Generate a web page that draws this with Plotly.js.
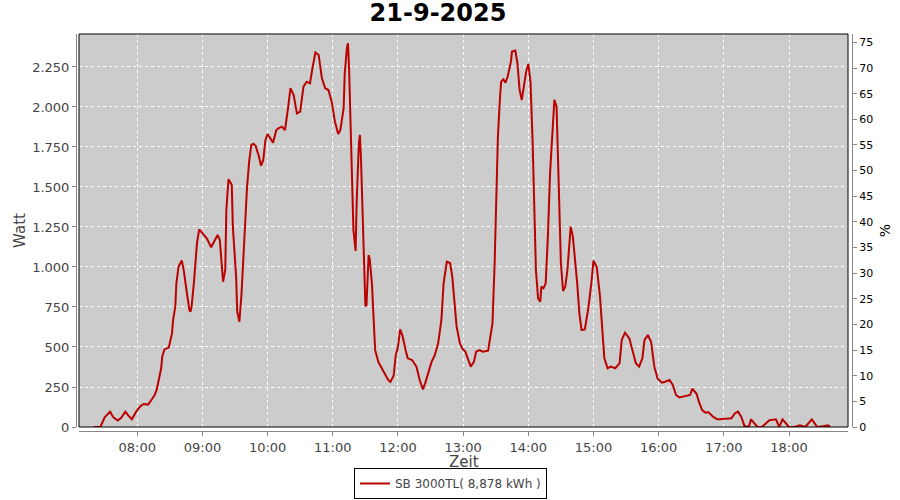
<!DOCTYPE html>
<html>
<head>
<meta charset="utf-8">
<script src="https://cdn.plot.ly/plotly-3.0.1.min.js"></script>
<style>html,body{margin:0;padding:0;background:#fff;}#chart{width:900px;height:500px;}</style>
</head>
<body>
<div id="chart"></div>
<script>
const chartDate = "2025-09-21";
const chartTitle = "21-9-2025";
const xTitle = "Zeit";
const seriesName = "SB 3000TL( 8,878 kWh )";

const times = [
"07:20","07:26","07:30","07:35","07:38","07:42","07:45","07:49","07:52","07:55","07:59",
"08:03","08:06","08:10","08:13","08:16","08:18","08:20","08:22","08:23","08:25","08:29","08:30","08:32","08:33","08:35","08:36","08:38","08:41","08:43","08:45","08:48","08:49","08:50","08:52","08:54","08:55","08:57",
"09:01","09:04","09:08","09:12","09:14","09:16","09:19","09:21","09:22","09:24","09:27","09:28","09:31","09:32","09:34","09:36","09:38","09:41","09:43","09:45","09:47","09:49","09:52","09:54","09:56","09:58",
"10:00","10:05","10:08","10:10","10:13","10:16","10:19","10:21","10:24","10:27","10:30","10:33","10:36","10:39","10:41","10:44","10:47","10:50","10:53","10:56","10:59",
"11:02","11:05","11:07","11:10","11:11","11:13","11:14","11:15","11:16","11:17","11:18","11:19","11:21","11:22","11:24","11:25","11:26","11:28","11:29","11:30","11:31","11:33","11:34","11:36","11:37","11:39","11:42","11:45","11:48","11:51","11:53","11:56","11:58",
"12:00","12:02","12:04","12:07","12:09","12:13","12:17","12:20","12:23","12:25","12:28","12:31","12:34","12:37","12:40","12:42","12:45","12:48","12:50","12:52","12:54","12:57","12:59",
"13:02","13:05","13:07","13:10","13:12","13:15","13:18","13:23","13:27","13:29","13:31","13:32","13:34","13:35","13:37","13:39","13:41","13:44","13:45","13:48","13:50","13:52","13:54","13:56","13:58",
"14:00","14:02","14:04","14:06","14:07","14:09","14:11","14:12","14:14","14:16","14:18","14:20","14:22","14:24","14:26","14:27","14:29","14:30","14:32","14:34","14:36","14:38","14:39","14:41","14:43","14:45","14:47","14:49","14:52","14:55","14:58",
"15:00","15:03","15:06","15:08","15:10","15:13","15:16","15:20","15:24","15:26","15:29","15:33","15:36","15:39","15:42","15:45","15:47","15:50","15:53","15:56","15:59",
"16:03","16:06","16:10","16:13","16:16","16:19","16:22","16:29","16:31","16:35","16:37","16:40","16:43","16:46","16:50","16:54","16:56",
"17:07","17:10","17:13","17:16","17:19","17:23","17:25","17:31","17:35","17:42","17:48","17:51","17:54",
"18:00","18:05","18:10","18:15","18:21","18:26","18:31","18:36","18:38","18:40"
];
const watts = [
0,0,60,96,60,40,56,96,69,48,96,
131,144,140,169,200,235,294,367,440,485,496,523,585,669,752,898,1002,1040,971,870,731,720,752,890,1080,1150,1235,
1206,1179,1123,1179,1200,1169,908,981,1356,1548,1513,1252,940,721,658,835,1106,1492,1658,1763,1770,1756,1690,1633,1669,1794,
1831,1777,1856,1867,1877,1856,2002,2117,2075,1960,1971,2127,2158,2148,2231,2340,2325,2179,2117,2106,2033,
1908,1831,1856,1992,2210,2367,2398,2242,2002,1700,1419,1231,1100,1408,1773,1825,1669,1169,929,760,760,1075,1050,900,760,480,406,370,330,294,282,320,450,
500,610,575,481,429,419,377,294,235,273,346,408,450,523,669,898,1033,1025,940,794,627,523,
492,471,408,377,408,471,481,471,477,648,1023,1502,1815,2065,2158,2173,2152,2190,2283,2346,2352,2273,2106,2044,2138,
2221,2269,2158,1773,1273,981,804,783,877,867,898,1190,1585,1856,2044,2002,1773,1398,1023,850,877,981,1148,1252,1190,1065,898,710,606,610,731,
898,1040,1000,815,620,430,367,377,367,398,544,590,554,481,398,377,429,544,575,533,377,
304,277,283,294,263,200,185,190,200,240,206,158,106,90,92,65,48,
48,54,85,96,65,6,0,48,0,0,42,48,0,
48,0,0,10,0,48,0,5,10,0
];

const yTickStep = 250;
const pctTickStep = 5;
const xs = times.map(t => chartDate + " " + t);

// layout geometry (pixels)
const W = 900, H = 500;
const mL = 76, mR = 48, mT = 34, mB = 69;
const pw = W - mL - mR, ph = H - mT - mB;
const xd0 = 3 / pw, xd1 = (pw - 4) / pw;
const yd0 = 4 / ph;

const grey = "#444444";
const axisGrey = "#888888";

const traces = [
  {
    x: xs, y: watts, type: "scatter", mode: "lines", name: seriesName,
    line: {color: "#BB0000", width: 2}, xaxis: "x", yaxis: "y"
  },
  {
    x: [xs[0]], y: [null], type: "scatter", mode: "lines", showlegend: false,
    hoverinfo: "skip", xaxis: "x", yaxis: "y2"
  }
];

const layout = {
  width: W, height: H,
  margin: {l: mL, r: mR, t: mT, b: mB, pad: 0, autoexpand: false},
  paper_bgcolor: "#ffffff",
  plot_bgcolor: "#CCCCCC",
  separators: ",.",
  font: {family: "DejaVu Sans, sans-serif", size: 12, color: grey},
  title: {
    text: "<b>" + chartTitle + "</b>",
    font: {family: "DejaVu Sans, sans-serif", size: 24, color: "#000"},
    x: 438 / W, xref: "container", xanchor: "center",
    y: 1 - 13 / H, yref: "container", yanchor: "middle"
  },
  xaxis: {
    type: "date",
    domain: [xd0, xd1], anchor: "free", position: 0,
    range: [chartDate + " 07:06:22", chartDate + " 18:54:18"],
    tick0: chartDate + " 08:00", dtick: 3600000, tickformat: "%H:%M",
    showgrid: true, gridcolor: "#ffffff", griddash: "3px,3px", gridwidth: 1,
    showline: true, linecolor: axisGrey, linewidth: 1,
    ticks: "outside", ticklen: 4, tickcolor: axisGrey,
    tickfont: {size: 13, color: grey},
    zeroline: false, automargin: false,
    title: {text: ""}
  },
  yaxis: {
    domain: [yd0, 1], anchor: "free", position: 0,
    range: [0, 2456], dtick: yTickStep, tick0: 0, tickformat: ",d",
    showgrid: true, gridcolor: "#ffffff", griddash: "3px,3px", gridwidth: 1,
    showline: true, linecolor: axisGrey, linewidth: 1,
    ticks: "outside", ticklen: 4, tickcolor: axisGrey,
    tickfont: {size: 13, color: grey},
    zeroline: false, automargin: false,
    title: {text: "Watt", font: {size: 15, color: grey}, standoff: 1}
  },
  yaxis2: {
    overlaying: "y", side: "right", anchor: "free", position: 1,
    range: [0, 76.64], dtick: pctTickStep, tick0: 0,
    showgrid: false, zeroline: false, automargin: false,
    showline: true, linecolor: axisGrey, linewidth: 1,
    ticks: "outside", ticklen: 4, tickcolor: axisGrey,
    tickfont: {size: 11, color: "#000"},
    title: {text: "%", font: {size: 14, color: "#000"}, standoff: 7}
  },
  annotations: [
    {text: xTitle, xref: "paper", yref: "paper",
     x: (463.5 - mL) / pw, y: (ph - (462 - mT)) / ph,
     xanchor: "center", yanchor: "middle", showarrow: false, borderpad: 0,
     font: {size: 15, color: grey}}
  ],
  shapes: [
    {type: "rect", xref: "paper", yref: "paper", x0: xd0, x1: xd1, y0: yd0, y1: 1,
     line: {color: "#000", width: 1}, fillcolor: "rgba(0,0,0,0)", layer: "above"}
  ],
  showlegend: true,
  legend: {
    orientation: "h", x: 450.5 / W, xref: "container", xanchor: "center",
    y: 1 - 499 / H, yref: "container", yanchor: "bottom",
    bordercolor: "#000", borderwidth: 1, bgcolor: "#fff",
    font: {size: 12, color: grey}
  }
};

Plotly.newPlot("chart", traces, layout, {displayModeBar: false, staticPlot: true});
</script>
</body>
</html>
